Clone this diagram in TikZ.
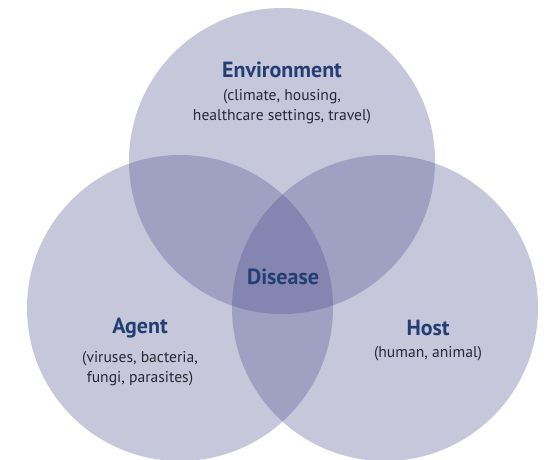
\documentclass[tikz,border=0pt]{standalone}
\usepackage{fontspec}
\setmainfont{PT Sans}
\usetikzlibrary{positioning}

\definecolor{ringfill}{RGB}{68,70,136}
\definecolor{titleblue}{RGB}{35,62,115}
\definecolor{subgray}{RGB}{40,40,50}

\tikzset{
	ring/.style={fill=ringfill, fill opacity=0.3},
	title/.style={font=\bfseries\fontsize{12.5}{14}\selectfont, text=titleblue, inner sep=0pt},
	sub/.style={font=\fontsize{8.9}{11.3}\selectfont, text=subgray, align=center, inner sep=0pt},
}

\begin{document}
\begin{tikzpicture}[x=0.02cm, y=-0.02cm]
		\useasboundingbox (0,0) rectangle (546,459);
		\clip (0,0) rectangle (546,459);

		% the three circles
		\coordinate (E) at (282,161);
		\coordinate (A) at (180,308);
		\coordinate (H) at (385,308);
		\fill[ring] (E) circle[radius=153];
		\fill[ring] (A) circle[radius=153];
		\fill[ring] (H) circle[radius=153];

		% labels
		\node[title] (env) at (282,70) {Environment};
		\node[sub, below=0.22cm of env] (envsub) {(climate, housing,\\healthcare settings, travel)};

		\node[title] (agent) at (140,328) {Agent};
		\node[sub, below=0.25cm of agent] (agentsub) {(viruses, bacteria,\\fungi, parasites)};

		\node[title] (host) at (428,328) {Host};
		\node[sub, below=0.2cm of host] (hostsub) {(human, animal)};

		\node[title] (disease) at (283,277) {Disease};
	\end{tikzpicture}
\end{document}
